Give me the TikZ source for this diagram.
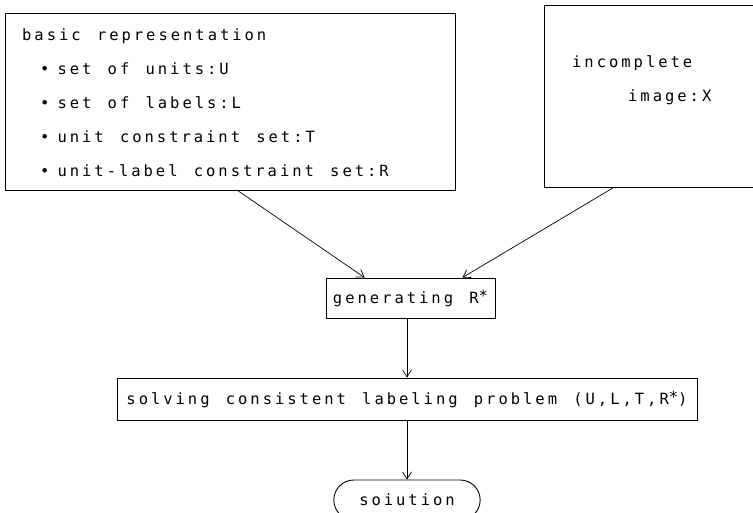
\documentclass[tikz,border=0pt]{standalone}
\usepackage{fontspec}
\newfontfamily\typefont[LetterSpace=19.2,WordSpace=1.32]{DejaVu Sans Mono}
\newcommand\rstar{R\raisebox{2pt}{*}}
\usetikzlibrary{arrows.meta,shapes.misc}

\begin{document}
\begin{tikzpicture}[x=1pt, y=-1pt,
  font=\typefont\fontsize{15.5}{34}\selectfont,
  box/.style={rectangle, draw=black, line width=0.9pt, inner sep=0pt},
  txt/.style={inner sep=0pt, align=left},
  flw/.style={-{Straight Barb[length=7pt,width=9pt]}, draw=black, line width=0.7pt}
]
\useasboundingbox (0,0) rectangle (753,512);
\clip (0,0) rectangle (753,512);

\node[box, minimum width=450pt, minimum height=177pt] (basic) at (230,101.5) {};
\node[txt, anchor=west] (basictxt) at (22,103)
  {basic representation\\
   \hspace*{18pt}•\hspace*{8pt}set of units:U\\
   \hspace*{18pt}•\hspace*{8pt}set of labels:L\\
   \hspace*{18pt}•\hspace*{8pt}unit constraint set:T\\
   \hspace*{18pt}•\hspace*{8pt}unit-label constraint set:R};
\node[box, minimum width=260pt, minimum height=182pt, anchor=north west] (img) at (544,5) {};
\node[txt, anchor=west] (imgtxt) at (572,80) {incomplete\\\hspace*{56pt}image:X};
\node[box, minimum width=169pt, minimum height=40pt] (gen) at (410.5,298) {generating \rstar};
\node[box, minimum width=580pt, minimum height=42pt] (solve) at (407,399)
  {solving consistent labeling problem (U,L,T,\rstar)};
\node[rounded rectangle, draw=black, line width=0.9pt, minimum width=153pt, minimum height=40pt] (sol) at (407,500) {soiution};

\draw[flw] ([xshift=233pt]basic.south west) -- ([xshift=39pt]gen.north west);
\draw[flw] ([xshift=69pt]img.south west) -- ([xshift=-33pt]gen.north east);
\draw[flw] (gen.south -| solve.north) -- (solve.north);
\draw[flw] (solve.south) -- (sol.north);
\end{tikzpicture}
\end{document}
